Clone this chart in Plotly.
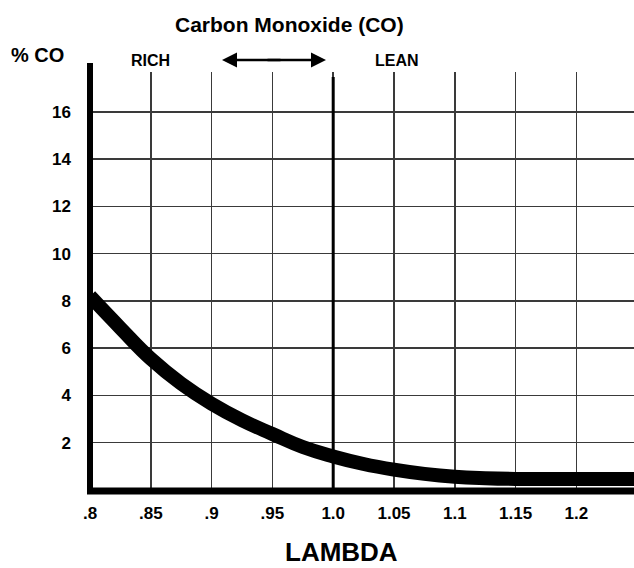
import plotly.graph_objects as go

# Data
lambda_vals = [0.80, 0.825, 0.85, 0.875, 0.90, 0.925, 0.95, 0.975, 1.00, 1.025, 1.05, 1.075, 1.10, 1.125, 1.15, 1.175, 1.20, 1.25]
co_pct = [8.2, 6.85, 5.55, 4.5, 3.65, 2.95, 2.37, 1.82, 1.42, 1.1, 0.86, 0.68, 0.56, 0.5, 0.47, 0.47, 0.47, 0.47]

x_tick_vals = [0.80, 0.85, 0.90, 0.95, 1.00, 1.05, 1.10, 1.15, 1.20]
x_tick_text = [".8", ".85", ".9", ".95", "1.0", "1.05", "1.1", "1.15", "1.2"]
y_tick_vals = [2, 4, 6, 8, 10, 12, 14, 16]
y_tick_text = ["2", "4", "6", "8", "10", "12", "14", "16"]

FONT = "Liberation Sans, Arial, sans-serif"
W, H = 634, 568
L, R, T, B = 90, 0, 72, 78
PW, PH = W - L - R, H - T - B

def px(x):
    return (x - L) / PW

def py(y):
    return (H - B - y) / PH

fig = go.Figure()
fig.add_trace(go.Scatter(
    x=lambda_vals, y=co_pct, mode="lines",
    line=dict(color="black", width=14, shape="spline", smoothing=1.3),
    hoverinfo="skip", showlegend=False,
))

grid = "#3a3a3a"
fig.update_layout(
    width=W, height=H,
    margin=dict(l=L, r=R, t=T, b=B, pad=0, autoexpand=False),
    paper_bgcolor="white", plot_bgcolor="white",
    showlegend=False,
    font=dict(family=FONT, color="black"),
    xaxis=dict(
        range=[0.8, 0.8 + PW / 1216.0],
        tickvals=x_tick_vals, ticktext=x_tick_text,
        showgrid=True, gridcolor=grid, gridwidth=1.5,
        zeroline=False, showline=False, ticks="",
        tickfont=dict(family=FONT, size=17, color="black", weight="bold"),
        ticklabelstandoff=11, automargin=False,
        fixedrange=True,
    ),
    yaxis=dict(
        range=[0, PH / 23.64],
        tickvals=y_tick_vals, ticktext=y_tick_text,
        showgrid=True, gridcolor=grid, gridwidth=1.5,
        zeroline=False, showline=False, ticks="",
        tickfont=dict(family=FONT, size=17, color="black", weight="bold"),
        ticklabelstandoff=18, automargin=False,
        fixedrange=True,
    ),
)

# Thick axis lines
fig.add_shape(type="line", xref="paper", yref="paper",
              x0=0, x1=0, y0=py(H - B + 4), y1=py(63),
              line=dict(color="black", width=6))
fig.add_shape(type="line", xref="paper", yref="paper",
              x0=px(87), x1=1, y0=py(491), y1=py(491),
              line=dict(color="black", width=7))
# Stoichiometric line at lambda = 1.0
fig.add_shape(type="line", xref="x", yref="paper",
              x0=1.0, x1=1.0, y0=0, y1=py(77),
              line=dict(color="black", width=3))

# Double-headed arrow
arrow_y = py(60)
fig.add_annotation(x=px(326), y=arrow_y, xref="paper", yref="paper",
                   ax=-60, ay=0, text="", showarrow=True,
                   arrowhead=2, arrowsize=1.2, arrowwidth=2.5, arrowcolor="black")
fig.add_annotation(x=px(222), y=arrow_y, xref="paper", yref="paper",
                   ax=60, ay=0, text="", showarrow=True,
                   arrowhead=2, arrowsize=1.2, arrowwidth=2.5, arrowcolor="black")

def label(text, x, y, size):
    fig.add_annotation(x=px(x), y=py(y), xref="paper", yref="paper",
                       text=f"<b>{text}</b>", showarrow=False,
                       xanchor="center", yanchor="middle",
                       font=dict(family=FONT, size=size, color="black"))

label("Carbon Monoxide (CO)", 289, 25, 21)
label("% CO", 37, 55, 20)
label("RICH", 150, 60, 16)
label("LEAN", 397, 60, 16)
label("LAMBDA", 341, 552, 26)

fig.write_html(
    "out.html",
    config={"displayModeBar": False, "staticPlot": True},
    post_script="document.body.style.margin='0';document.body.style.padding='0';document.body.style.overflow='hidden';",
)
